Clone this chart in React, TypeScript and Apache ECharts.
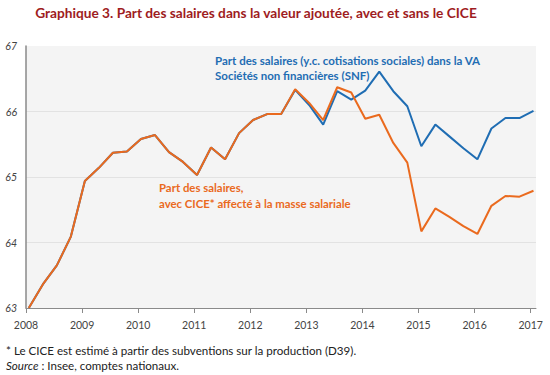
import React, { useEffect, useRef } from "react";
import * as echarts from "echarts";

// Quarterly data, 2008T1 .. 2017T1
const startYear = 2008;
const quarterCount = 37;

// Part des salaires, avec CICE affecté à la masse salariale
const withCice = [
  63.0, 63.36, 63.65, 64.09,
  64.94, 65.14, 65.37, 65.39,
  65.58, 65.64, 65.38, 65.23,
  65.03, 65.45, 65.27, 65.67,
  65.87, 65.96, 65.96, 66.34,
  66.13, 65.87, 66.37, 66.29,
  65.89, 65.95, 65.52, 65.22,
  64.17, 64.52, 64.39, 64.25,
  64.13, 64.56, 64.71, 64.7,
  64.79,
];

// Part des salaires (y.c. cotisations sociales) dans la VA des SNF
const snf = [
  63.0, 63.36, 63.65, 64.09,
  64.94, 65.14, 65.37, 65.39,
  65.58, 65.64, 65.38, 65.23,
  65.03, 65.45, 65.27, 65.67,
  65.87, 65.96, 65.96, 66.33,
  66.1, 65.8, 66.31, 66.18,
  66.32, 66.61, 66.31, 66.08,
  65.47, 65.8, 65.62, 65.44,
  65.27, 65.74, 65.9, 65.9,
  66.01,
];

const yearTicks = [2008, 2009, 2010, 2011, 2012, 2013, 2014, 2015, 2016, 2017];
const yTicks = [63, 64, 65, 66, 67];

const titleText = "Graphique 3. Part des salaires dans la valeur ajoutée, avec et sans le CICE";
const blueLabel = ["Part des salaires (y.c. cotisations sociales) dans la VA", "Sociétés non financières (SNF)"];
const orangeLabel = ["Part des salaires,", "avec CICE* affecté à la masse salariale"];
const footnote = "* Le CICE est estimé à partir des subventions sur la production (D39).";
const sourceLabel = "Source";
const sourceText = " : Insee, comptes nationaux.";

const FONT = "Lato, 'Open Sans', sans-serif";
const ORANGE = "#ea6a1e";
const BLUE = "#1f6db3";

export default function App() {
  const ref = useRef<HTMLDivElement>(null);

  useEffect(() => {
    if (!ref.current) return;
    const chart = echarts.init(ref.current, undefined, { renderer: "svg" });

    const xs = Array.from({ length: quarterCount }, (_, i) => startYear + 0.05 + i * 0.25);
    const orangeData = withCice.map((v, i) => [xs[i], v]);
    const blueData = snf.map((v, i) => [xs[i], v]);

    chart.setOption({
      animation: false,
      backgroundColor: "#ffffff",
      grid: {
        left: 26,
        right: 14,
        top: 46,
        bottom: 67,
        show: true,
        backgroundColor: "#f4f4f4",
        borderWidth: 0,
      },
      xAxis: {
        type: "value",
        min: yearTicks[0],
        max: 2017.095,
        interval: 1,
        axisLine: { show: true, lineStyle: { color: "#8a8a8a", width: 1 } },
        axisTick: { show: true, length: 5, lineStyle: { color: "#8a8a8a" } },
        splitLine: { show: false },
        axisLabel: {
          color: "#444",
          fontFamily: FONT,
          fontSize: 10.5,
          margin: 11,
          showMaxLabel: false,
          formatter: (v: number) => (yearTicks.includes(Math.round(v)) && Math.abs(v - Math.round(v)) < 1e-6 ? String(Math.round(v)) : ""),
        },
      },
      yAxis: {
        type: "value",
        min: yTicks[0],
        max: yTicks[yTicks.length - 1],
        interval: 1,
        axisLine: { show: true, lineStyle: { color: "#8a8a8a", width: 1.5 } },
        axisTick: { show: false },
        splitLine: {
          show: true,
          lineStyle: { color: ["transparent", "#e2e2e2", "#e2e2e2", "#e2e2e2", "transparent"], width: 1 },
        },
        axisLabel: {
          color: "#444",
          fontFamily: FONT,
          fontSize: 10.5,
          fontStyle: "italic",
          margin: 9,
        },
      },
      series: [
        {
          type: "line",
          data: blueData,
          showSymbol: false,
          lineStyle: { color: BLUE, width: 2 },
          itemStyle: { color: BLUE },
          z: 2,
        },
        {
          type: "line",
          data: orangeData,
          showSymbol: false,
          lineStyle: { color: ORANGE, width: 2 },
          itemStyle: { color: ORANGE },
          z: 3,
        },
      ],
      graphic: [
        {
          type: "text",
          x: 256,
          y: 12,
          style: {
            text: titleText,
            fill: "#9e1c22",
            font: `bold 13.7px ${FONT}`,
            textAlign: "center",
            textVerticalAlign: "middle",
          },
        },
        {
          type: "text",
          x: 215,
          y: 60,
          style: {
            text: blueLabel[0],
            fill: BLUE,
            font: `bold 11.5px ${FONT}`,
            textVerticalAlign: "middle",
          },
        },
        {
          type: "text",
          x: 215,
          y: 75,
          style: {
            text: blueLabel[1],
            fill: BLUE,
            font: `bold 11.5px ${FONT}`,
            textVerticalAlign: "middle",
          },
        },
        {
          type: "text",
          x: 159,
          y: 187,
          style: {
            text: orangeLabel[0],
            fill: ORANGE,
            font: `bold 11.4px ${FONT}`,
            textVerticalAlign: "middle",
          },
        },
        {
          type: "text",
          x: 159,
          y: 203,
          style: {
            text: orangeLabel[1],
            fill: ORANGE,
            font: `bold 11.4px ${FONT}`,
            textVerticalAlign: "middle",
          },
        },
        {
          type: "text",
          x: 6,
          y: 350,
          style: {
            text: footnote,
            fill: "#222",
            font: `11.6px ${FONT}`,
            textVerticalAlign: "middle",
          },
        },
        {
          type: "text",
          x: 6,
          y: 365,
          style: {
            text: `{i|${sourceLabel}}{n|${sourceText}}`,
            textVerticalAlign: "middle",
            rich: {
              i: { fill: "#222", fontFamily: FONT, fontSize: 11.6, fontStyle: "italic" },
              n: { fill: "#222", fontFamily: FONT, fontSize: 11.6 },
            },
          },
        },
      ],
    });

    return () => chart.dispose();
  }, []);

  return <div ref={ref} style={{ width: 550, height: 375, position: "absolute", left: 0, top: 0 }} />;
}
